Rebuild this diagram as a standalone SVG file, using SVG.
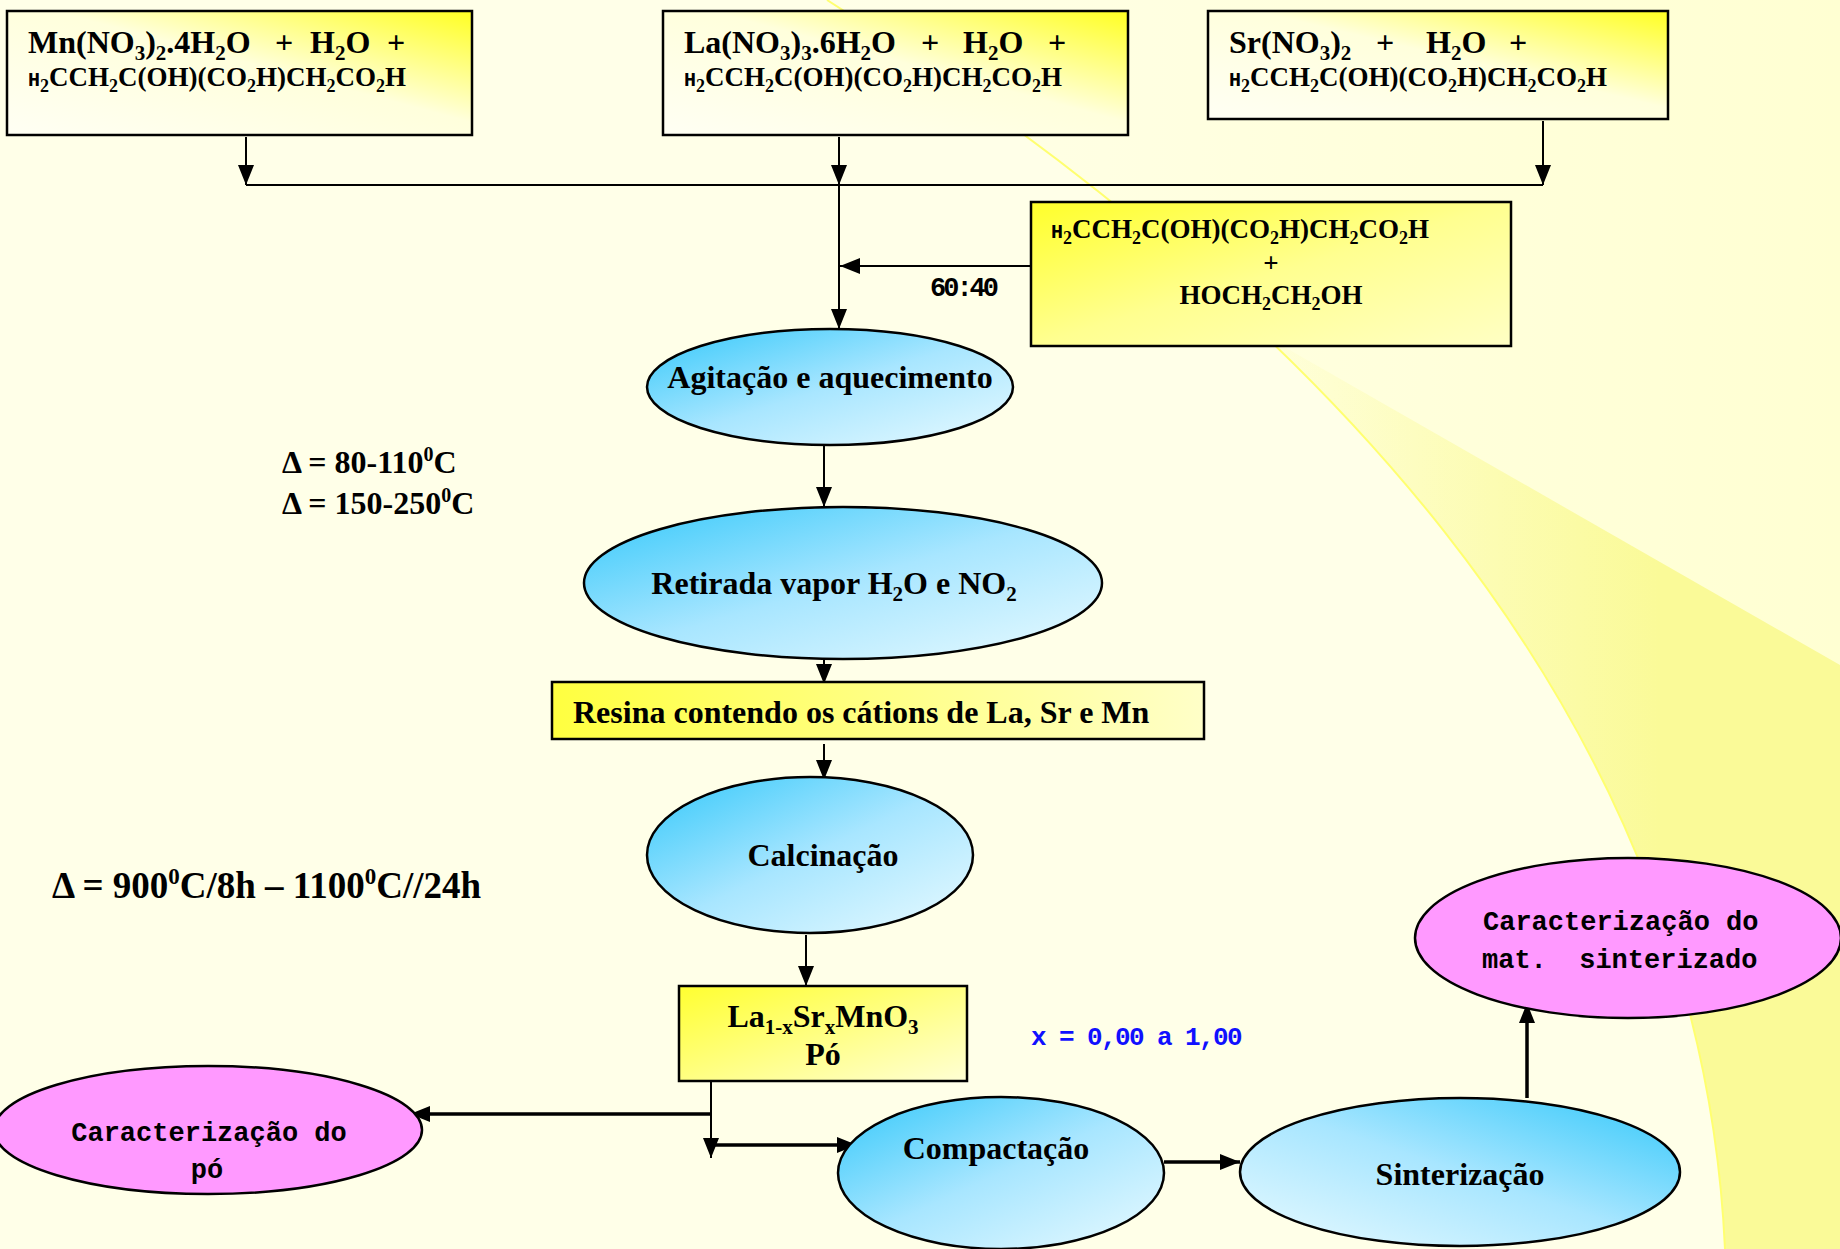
<svg xmlns="http://www.w3.org/2000/svg" width="1840" height="1249" viewBox="0 0 1840 1249">
<style>
.t{font-family:"Liberation Serif","Times New Roman",serif;font-weight:bold;fill:#000}
.m{font-family:"Liberation Mono","Courier New",monospace;font-weight:bold;fill:#000}
.box{stroke:#000;stroke-width:2.5}
.ell{stroke:#000;stroke-width:2.5}
.ln{stroke:#000;stroke-width:2;fill:none}
.lt{stroke:#000;stroke-width:3.5;fill:none}
</style>
<defs>
<marker id="ah" viewBox="0 0 20 16" refX="20" refY="8" markerWidth="20" markerHeight="16" orient="auto" markerUnits="userSpaceOnUse"><path d="M0,0 L20,8 L0,16 z" fill="#000"/></marker>
<linearGradient id="gTop" x1="0" y1="1" x2="1" y2="0"><stop offset="0" stop-color="#FFFFF4"/><stop offset="0.55" stop-color="#FFFFDC"/><stop offset="1" stop-color="#FFFF22"/></linearGradient>
<linearGradient id="gB4" x1="0" y1="0" x2="1" y2="1"><stop offset="0" stop-color="#FFFF2A"/><stop offset="0.5" stop-color="#FFFF90"/><stop offset="1" stop-color="#FFFFC4"/></linearGradient>
<linearGradient id="gRes" x1="0" y1="0" x2="1" y2="0"><stop offset="0" stop-color="#FFFF40"/><stop offset="1" stop-color="#FFFFC8"/></linearGradient>
<linearGradient id="gLa" x1="0" y1="0" x2="1" y2="1"><stop offset="0" stop-color="#FFFF30"/><stop offset="1" stop-color="#FFFFD4"/></linearGradient>
<linearGradient id="gBlue" x1="0" y1="0" x2="1" y2="1"><stop offset="0" stop-color="#33C8FA"/><stop offset="0.5" stop-color="#A8E6FF"/><stop offset="1" stop-color="#E8FAFF"/></linearGradient>
<linearGradient id="gBlueR" x1="1" y1="0" x2="0" y2="1"><stop offset="0" stop-color="#33C8FA"/><stop offset="0.5" stop-color="#A8E6FF"/><stop offset="1" stop-color="#E8FAFF"/></linearGradient>
<linearGradient id="gBg" x1="0" y1="0" x2="1" y2="0"><stop offset="0" stop-color="#FFFFE8"/><stop offset="1" stop-color="#FFFFD2"/></linearGradient>
<linearGradient id="gWedge" gradientUnits="userSpaceOnUse" x1="1250" y1="0" x2="1660" y2="0"><stop offset="0" stop-color="#FAFA98" stop-opacity="0"/><stop offset="1" stop-color="#FAFA98" stop-opacity="1"/></linearGradient>
<clipPath id="cR"><path d="M827,0 C1300,300 1700,700 1725,1249 L1840,1249 L1840,0 Z"/></clipPath>
</defs>

<g id="background">
<rect x="0" y="0" width="1840" height="1249" fill="#FFFFE8"/>
<path d="M827,0 C1300,300 1700,700 1725,1249 L1840,1249 L1840,0 Z" fill="url(#gBg)"/>
<g clip-path="url(#cR)">
<polygon points="1150,270 1840,665 1840,1249 1300,1249" fill="url(#gWedge)"/>
</g>
<path d="M827,0 C1300,300 1700,700 1725,1249" fill="none" stroke="#FFFF70" stroke-width="2"/>
</g>

<g id="connectors">
<line class="ln" x1="246" y1="137" x2="246" y2="185" marker-end="url(#ah)"/>
<line class="ln" x1="839" y1="137" x2="839" y2="185" marker-end="url(#ah)"/>
<line class="ln" x1="1543" y1="121" x2="1543" y2="185" marker-end="url(#ah)"/>
<line class="ln" x1="246" y1="185" x2="1543" y2="185"/>
<line class="ln" x1="839" y1="185" x2="839" y2="329" marker-end="url(#ah)"/>
<line class="ln" x1="1031" y1="266" x2="840" y2="266" marker-end="url(#ah)"/>
<line class="ln" x1="824" y1="446" x2="824" y2="507" marker-end="url(#ah)"/>
<line class="ln" x1="824" y1="649" x2="824" y2="684" marker-end="url(#ah)"/>
<line class="ln" x1="824" y1="744" x2="824" y2="780" marker-end="url(#ah)"/>
<line class="ln" x1="806" y1="935" x2="806" y2="986" marker-end="url(#ah)"/>
<line class="ln" x1="711" y1="1082" x2="711" y2="1158" marker-end="url(#ah)"/>
<line class="lt" x1="711" y1="1114" x2="410" y2="1114" marker-end="url(#ah)"/>
<line class="lt" x1="711" y1="1145" x2="857" y2="1145" marker-end="url(#ah)"/>
<line class="lt" x1="1164" y1="1162" x2="1240" y2="1162" marker-end="url(#ah)"/>
<line class="lt" x1="1527" y1="1098" x2="1527" y2="1003" marker-end="url(#ah)"/>
</g>

<g id="box-mn">
<rect class="box" x="7" y="11" width="465" height="124" fill="url(#gTop)"/>
<text class="t" x="28" y="53" font-size="32">Mn(NO<tspan dy="7" font-size="21">3</tspan><tspan dy="-7">)</tspan><tspan dy="7" font-size="21">2</tspan><tspan dy="-7">.4H</tspan><tspan dy="7" font-size="21">2</tspan><tspan dy="-7">O</tspan></text>
<text class="t" x="284" y="53" font-size="32" text-anchor="middle">+</text>
<text class="t" x="310" y="53" font-size="32">H<tspan dy="7" font-size="21">2</tspan><tspan dy="-7">O</tspan></text>
<text class="t" x="396" y="53" font-size="32" text-anchor="middle">+</text>
<text class="t" x="28" y="86" font-size="27"><tspan class="m" font-size="20">H</tspan><tspan dy="6" font-size="18">2</tspan><tspan dy="-6">CCH</tspan><tspan dy="6" font-size="18">2</tspan><tspan dy="-6">C(OH)(CO</tspan><tspan dy="6" font-size="18">2</tspan><tspan dy="-6">H)CH</tspan><tspan dy="6" font-size="18">2</tspan><tspan dy="-6">CO</tspan><tspan dy="6" font-size="18">2</tspan><tspan dy="-6">H</tspan></text>
</g>

<g id="box-la">
<rect class="box" x="663" y="11" width="465" height="124" fill="url(#gTop)"/>
<text class="t" x="684" y="53" font-size="32">La(NO<tspan dy="7" font-size="21">3</tspan><tspan dy="-7">)</tspan><tspan dy="7" font-size="21">3</tspan><tspan dy="-7">.6H</tspan><tspan dy="7" font-size="21">2</tspan><tspan dy="-7">O</tspan></text>
<text class="t" x="930" y="53" font-size="32" text-anchor="middle">+</text>
<text class="t" x="963" y="53" font-size="32">H<tspan dy="7" font-size="21">2</tspan><tspan dy="-7">O</tspan></text>
<text class="t" x="1057" y="53" font-size="32" text-anchor="middle">+</text>
<text class="t" x="684" y="86" font-size="27"><tspan class="m" font-size="20">H</tspan><tspan dy="6" font-size="18">2</tspan><tspan dy="-6">CCH</tspan><tspan dy="6" font-size="18">2</tspan><tspan dy="-6">C(OH)(CO</tspan><tspan dy="6" font-size="18">2</tspan><tspan dy="-6">H)CH</tspan><tspan dy="6" font-size="18">2</tspan><tspan dy="-6">CO</tspan><tspan dy="6" font-size="18">2</tspan><tspan dy="-6">H</tspan></text>
</g>

<g id="box-sr">
<rect class="box" x="1208" y="11" width="460" height="108" fill="url(#gTop)"/>
<text class="t" x="1229" y="53" font-size="32">Sr(NO<tspan dy="7" font-size="21">3</tspan><tspan dy="-7">)</tspan><tspan dy="7" font-size="21">2</tspan></text>
<text class="t" x="1385" y="53" font-size="32" text-anchor="middle">+</text>
<text class="t" x="1426" y="53" font-size="32">H<tspan dy="7" font-size="21">2</tspan><tspan dy="-7">O</tspan></text>
<text class="t" x="1518" y="53" font-size="32" text-anchor="middle">+</text>
<text class="t" x="1229" y="86" font-size="27"><tspan class="m" font-size="20">H</tspan><tspan dy="6" font-size="18">2</tspan><tspan dy="-6">CCH</tspan><tspan dy="6" font-size="18">2</tspan><tspan dy="-6">C(OH)(CO</tspan><tspan dy="6" font-size="18">2</tspan><tspan dy="-6">H)CH</tspan><tspan dy="6" font-size="18">2</tspan><tspan dy="-6">CO</tspan><tspan dy="6" font-size="18">2</tspan><tspan dy="-6">H</tspan></text>
</g>

<g id="box-citric-glycol">
<rect class="box" x="1031" y="202" width="480" height="144" fill="url(#gB4)"/>
<text class="t" x="1051" y="238" font-size="27"><tspan class="m" font-size="20">H</tspan><tspan dy="6" font-size="18">2</tspan><tspan dy="-6">CCH</tspan><tspan dy="6" font-size="18">2</tspan><tspan dy="-6">C(OH)(CO</tspan><tspan dy="6" font-size="18">2</tspan><tspan dy="-6">H)CH</tspan><tspan dy="6" font-size="18">2</tspan><tspan dy="-6">CO</tspan><tspan dy="6" font-size="18">2</tspan><tspan dy="-6">H</tspan></text>
<text class="t" x="1271" y="272" font-size="27" text-anchor="middle">+</text>
<text class="t" x="1271" y="304" font-size="27" text-anchor="middle">HOCH<tspan dy="6" font-size="18">2</tspan><tspan dy="-6">CH</tspan><tspan dy="6" font-size="18">2</tspan><tspan dy="-6">OH</tspan></text>
</g>

<g id="label-ratio">
<text class="m" x="963" y="296" font-size="27" text-anchor="middle" letter-spacing="-3">60:40</text>
</g>

<g id="node-agitacao">
<ellipse class="ell" cx="830" cy="387" rx="183" ry="58" fill="url(#gBlue)"/>
<text class="t" x="830" y="388" font-size="32" text-anchor="middle">Agitação e aquecimento</text>
</g>

<g id="label-temps">
<text class="t" x="282" y="473" font-size="32">Δ = 80-110<tspan dy="-12" font-size="20">0</tspan><tspan dy="12">C</tspan></text>
<text class="t" x="282" y="514" font-size="32">Δ = 150-250<tspan dy="-12" font-size="20">0</tspan><tspan dy="12">C</tspan></text>
</g>

<g id="node-retirada">
<ellipse class="ell" cx="843" cy="583" rx="259" ry="76" fill="url(#gBlue)"/>
<text class="t" x="834" y="594" font-size="32" text-anchor="middle">Retirada vapor H<tspan dy="7" font-size="21">2</tspan><tspan dy="-7">O e NO</tspan><tspan dy="7" font-size="21">2</tspan></text>
</g>

<g id="node-resina">
<rect class="box" x="552" y="682" width="652" height="57" fill="url(#gRes)"/>
<text class="t" x="573" y="723" font-size="32">Resina contendo os cátions de La, Sr e Mn</text>
</g>

<g id="node-calcinacao">
<ellipse class="ell" cx="810" cy="855" rx="163" ry="78" fill="url(#gBlue)"/>
<text class="t" x="823" y="866" font-size="32" text-anchor="middle">Calcinação</text>
</g>

<g id="label-calc-temp">
<text class="t" x="52" y="898" font-size="37">Δ = 900<tspan dy="-14" font-size="23">0</tspan><tspan dy="14">C/8h – 1100</tspan><tspan dy="-14" font-size="23">0</tspan><tspan dy="14">C//24h</tspan></text>
</g>

<g id="node-po">
<rect class="box" x="679" y="986" width="288" height="95" fill="url(#gLa)"/>
<text class="t" x="823" y="1027" font-size="32" text-anchor="middle">La<tspan dy="7" font-size="21">1-x</tspan><tspan dy="-7">Sr</tspan><tspan dy="7" font-size="21">x</tspan><tspan dy="-7">MnO</tspan><tspan dy="7" font-size="21">3</tspan></text>
<text class="t" x="823" y="1065" font-size="32" text-anchor="middle">Pó</text>
</g>

<g id="label-x">
<text class="m" x="1031" y="1045" font-size="26" letter-spacing="-1.6" style="fill:#1010FF">x = 0,00 a 1,00</text>
</g>

<g id="node-caract-po">
<ellipse class="ell" cx="208" cy="1130" rx="214" ry="64" fill="#FF99FF"/>
<text class="m" x="209" y="1141" font-size="27" text-anchor="middle">Caracterização do</text>
<text class="m" x="207" y="1178" font-size="27" text-anchor="middle">pó</text>
</g>

<g id="node-compactacao">
<ellipse class="ell" cx="1001" cy="1173" rx="163" ry="76" fill="url(#gBlue)"/>
<text class="t" x="996" y="1159" font-size="32" text-anchor="middle">Compactação</text>
</g>

<g id="node-sinterizacao">
<ellipse class="ell" cx="1460" cy="1172" rx="220" ry="74" fill="url(#gBlueR)"/>
<text class="t" x="1460" y="1185" font-size="32" text-anchor="middle">Sinterização</text>
</g>

<g id="node-caract-sint">
<ellipse class="ell" cx="1628" cy="938" rx="213" ry="80" fill="#FF99FF"/>
<text class="m" x="1483" y="930" font-size="27" xml:space="preserve">Caracterização do</text>
<text class="m" x="1482" y="968" font-size="27" xml:space="preserve">mat.  sinterizado</text>
</g>
</svg>
